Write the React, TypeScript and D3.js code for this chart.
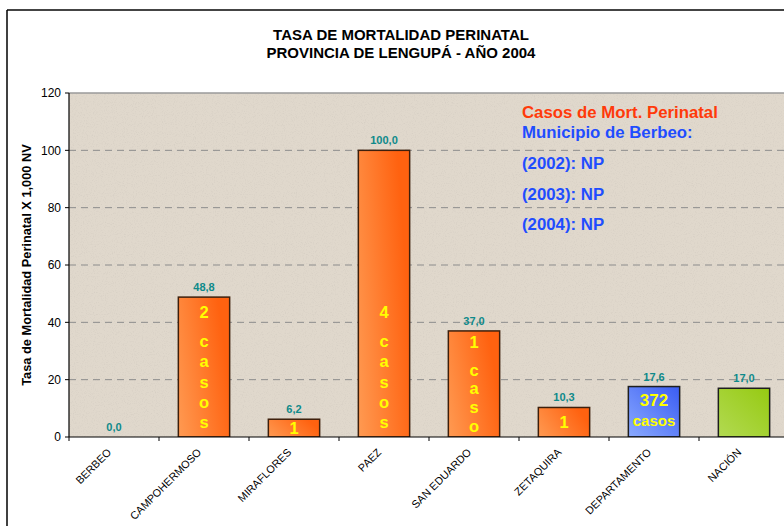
import React from "react";
import * as d3 from "d3";

const categories = ["BERBEO", "CAMPOHERMOSO", "MIRAFLORES", "PAEZ", "SAN EDUARDO", "ZETAQUIRA", "DEPARTAMENTO", "NACIÓN"];
const values = [0, 48.8, 6.2, 100, 37.0, 10.3, 17.6, 17.0];
const valueLabels = ["0,0", "48,8", "6,2", "100,0", "37,0", "10,3", "17,6", "17,0"];
const caseCounts = ["", "2", "1", "4", "1", "1", "372", ""];
const caseWords = ["", "casos", "", "casos", "caso", "", "casos", ""];
const stackedWord = [false, true, false, true, true, false, false, false];
const barKind = ["orange", "orange", "orange", "orange", "orange", "orange", "blue", "green"];
const yTicks = [0, 20, 40, 60, 80, 100, 120];
const noteLines = [
  { text: "Casos de Mort. Perinatal", kind: "red" },
  { text: "Municipio de Berbeo:", kind: "blue" },
  { text: "(2002): NP", kind: "blue" },
  { text: "(2003): NP", kind: "blue" },
  { text: "(2004): NP", kind: "blue" },
];

const W = 784, H = 526;
const L = 69, R = 789, T = 93, B = 437;
const FONT = "'Liberation Sans', Arial, sans-serif";

export default function App() {
  const x = d3.scaleBand<string>().domain(categories).range([L, R]).paddingInner(0.43).paddingOuter(0.215);
  const y = d3.scaleLinear().domain([0, 120]).range([B, T]);
  const step = x.step();
  const noteY = [118, 138, 169, 200, 230];

  return (
    <svg width={W} height={H} style={{ position: "absolute", left: 0, top: 0 }} fontFamily={FONT}>
      <defs>
        <linearGradient id="gOrange" x1="0" y1="1" x2="1" y2="0.6">
          <stop offset="0" stopColor="#FF9A52" />
          <stop offset="1" stopColor="#FF6210" />
        </linearGradient>
        <linearGradient id="gBlue" x1="0" y1="1" x2="1" y2="0">
          <stop offset="0" stopColor="#8AAAFF" />
          <stop offset="1" stopColor="#3A5CF2" />
        </linearGradient>
        <linearGradient id="gGreen" x1="0" y1="1" x2="1" y2="0">
          <stop offset="0" stopColor="#B2DA52" />
          <stop offset="1" stopColor="#96CA12" />
        </linearGradient>
        <filter id="noise" x="0" y="0" width="100%" height="100%">
          <feTurbulence type="fractalNoise" baseFrequency="0.9" numOctaves="2" seed="3" result="n" />
          <feColorMatrix in="n" type="matrix"
            values="0 0 0 0 0.5  0 0 0 0 0.46  0 0 0 0 0.42  1.8 0 0 0 -0.9" />
        </filter>
        <clipPath id="plotClip">
          <rect x={L} y={T} width={R - L} height={B - T} />
        </clipPath>
      </defs>

      <rect x={0} y={0} width={W} height={H} fill="#ffffff" />
      {/* outer frame */}
      <line x1={7} y1={10} x2={W} y2={10} stroke="#444" strokeWidth={2} />
      <line x1={7} y1={10} x2={7} y2={H} stroke="#000" strokeWidth={1.5} />

      {/* title */}
      <text x={401} y={40} textAnchor="middle" fontSize={15} fontWeight="bold" fill="#000">TASA DE MORTALIDAD PERINATAL</text>
      <text x={401} y={58} textAnchor="middle" fontSize={15} fontWeight="bold" fill="#000">PROVINCIA DE LENGUPÁ - AÑO 2004</text>

      {/* plot background */}
      <rect x={L} y={T} width={R - L} height={B - T} fill="#E0D8CC" />
      <rect x={L} y={T} width={R - L} height={B - T} filter="url(#noise)" opacity={0.35} />
      <line x1={L} y1={T} x2={R} y2={T} stroke="#9a9a9a" strokeWidth={1.5} />

      {/* gridlines */}
      {yTicks.filter(t => t > 0 && t < 120).map(t => (
        <line key={t} x1={L} x2={R} y1={y(t)} y2={y(t)} stroke="#8c8c8c" strokeWidth={1} strokeDasharray="7,5" />
      ))}

      {/* note */}
      {noteLines.map((n, i) => (
        <text key={i} x={522} y={noteY[i]} fontSize={16.8} fontWeight="bold" fill={n.kind === "red" ? "#FF3A0A" : "#1F4DFF"}>{n.text}</text>
      ))}

      {/* bars */}
      <g clipPath="url(#plotClip)">
        {categories.map((c, i) => {
          const v = values[i];
          if (v <= 0) return null;
          const x0 = x(c)!;
          const top = y(v);
          const fill = barKind[i] === "orange" ? "url(#gOrange)" : barKind[i] === "blue" ? "url(#gBlue)" : "url(#gGreen)";
          const stroke = barKind[i] === "orange" ? "#3d1f0c" : "#1e1e1e";
          return <rect key={c} x={x0} y={top} width={x.bandwidth()} height={B - top} fill={fill} stroke={stroke} strokeWidth={1.5} />;
        })}
      </g>

      {/* value labels */}
      {categories.map((c, i) => (
        <text key={c} x={x(c)! + x.bandwidth() / 2} y={y(values[i]) - 6} textAnchor="middle" fontSize={11} fontWeight="bold" fill="#0E8A8A">{valueLabels[i]}</text>
      ))}

      {/* case labels inside bars */}
      {categories.map((c, i) => {
        if (!caseCounts[i]) return null;
        const cx = x(c)! + x.bandwidth() / 2;
        const top = y(values[i]);
        const barH = B - top;
        const items: { t: string; y: number; s: number }[] = [];
        if (stackedWord[i] && caseWords[i]) {
          const letters = caseWords[i].split("");
          const long = letters.length >= 5;
          const last = long ? B - 9 : B - 5;
          const sp = long ? 20.2 : 18.8;
          letters.forEach((ch, k) => items.push({ t: ch, y: last - (letters.length - 1 - k) * sp, s: 16.5 }));
          items.push({ t: caseCounts[i], y: last - (letters.length - 1) * sp - (long ? 29 : 28), s: 16.5 });
        } else if (caseWords[i]) {
          items.push({ t: caseWords[i], y: B - 11, s: 15 });
          items.push({ t: caseCounts[i], y: B - 31, s: 17 });
        } else {
          const by = barH < 26 ? top + barH / 2 + 6 : B - 9;
          items.push({ t: caseCounts[i], y: by, s: 16.5 });
        }
        return (
          <g key={c}>
            {items.map((it, k) => (
              <text key={k} x={cx} y={it.y} textAnchor="middle" fontSize={it.s} fontWeight="bold" fill="#FFFF00">{it.t}</text>
            ))}
          </g>
        );
      })}

      {/* axes */}
      <line x1={L} y1={T} x2={L} y2={B} stroke="#000" strokeWidth={1.2} />
      <line x1={L} y1={B} x2={R} y2={B} stroke="#000" strokeWidth={1.2} />
      {yTicks.map(t => (
        <g key={t}>
          <line x1={L - 4} x2={L} y1={y(t)} y2={y(t)} stroke="#000" strokeWidth={1} />
          <text x={61} y={y(t)} dy="0.35em" textAnchor="end" fontSize={12} fill="#000">{t}</text>
        </g>
      ))}
      {d3.range(categories.length + 1).map(k => (
        <line key={k} x1={L + k * step} x2={L + k * step} y1={B} y2={B + 4} stroke="#000" strokeWidth={1} />
      ))}
      {categories.map(c => {
        const cx = x(c)! + x.bandwidth() / 2;
        return (
          <text key={c} transform={`translate(${cx - 2},${B + 16}) rotate(-45)`} textAnchor="end" fontSize={10.8} fill="#000">{c}</text>
        );
      })}

      {/* y axis title */}
      <text transform={`translate(31,${265}) rotate(-90)`} textAnchor="middle" fontSize={12.8} fontWeight="bold" fill="#000">Tasa de Mortalidad Perinatal X 1,000 NV</text>
    </svg>
  );
}
